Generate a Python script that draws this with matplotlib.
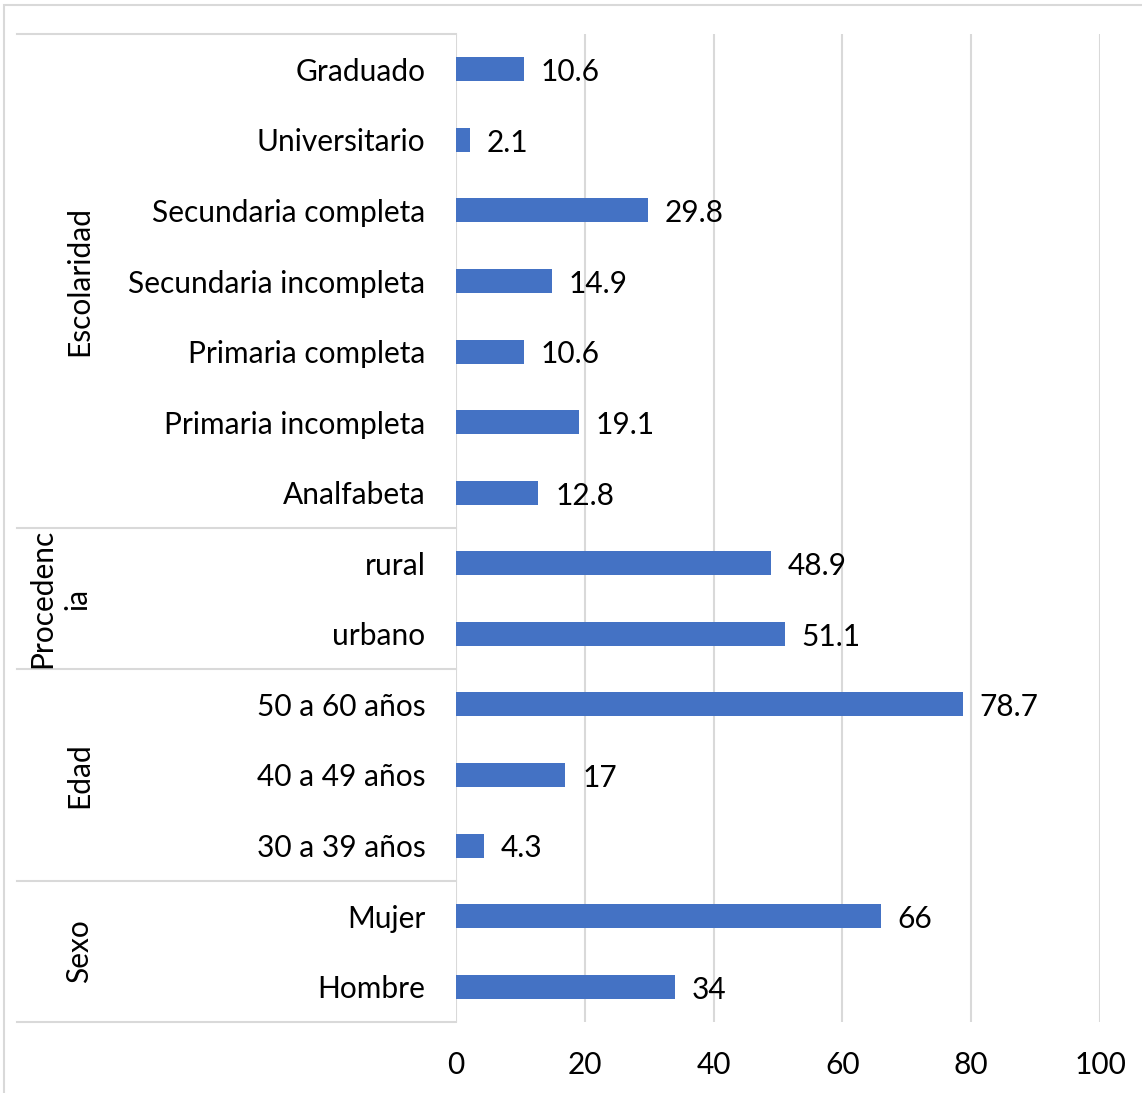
import matplotlib.pyplot as plt
from matplotlib.patches import Rectangle
from matplotlib.lines import Line2D

# Datos (de arriba hacia abajo)
categorias = ["Graduado", "Universitario", "Secundaria completa", "Secundaria incompleta",
              "Primaria completa", "Primaria incompleta", "Analfabeta",
              "rural", "urbano",
              "50 a 60 años", "40 a 49 años", "30 a 39 años",
              "Mujer", "Hombre"]
valores = [10.6, 2.1, 29.8, 14.9, 10.6, 19.1, 12.8, 48.9, 51.1, 78.7, 17, 4.3, 66, 34]
grupos = ["Escolaridad", "Procedenc\nia", "Edad", "Sexo"]
tam_grupos = [7, 2, 3, 2]
ticks_x = [0, 20, 40, 60, 80, 100]

plt.rcParams['font.family'] = ['Lato', 'DejaVu Sans']
GRIS = "#D9D9D9"
AZUL = "#4472C4"
FS = 21.5

W, H = 1142, 1093
fig = plt.figure(figsize=(W / 100, H / 100), dpi=100)
fig.patch.set_facecolor("white")

# borde exterior del gráfico
fig.patches.append(Rectangle((4 / W, -0.05), 1.2, 1 - 5 / H + 0.05, transform=fig.transFigure,
                             fill=False, edgecolor=GRIS, linewidth=1.5))

x0, x1, y0, y1 = 456, 1100, 34, 1022
ax = fig.add_axes([x0 / W, 1 - y1 / H, (x1 - x0) / W, (y1 - y0) / H])

n = len(categorias)
pos = list(range(n))
ax.barh(pos, valores, height=0.34, color=AZUL, zorder=3)
ax.set_ylim(n - 0.5, -0.5)
ax.set_xlim(0, 100)

for p, v in zip(pos, valores):
    ax.text(v + 2.6, p + 0.04, f"{v:g}", va="center", ha="left", fontsize=FS, color="black")

ax.set_yticks(pos)
ax.set_yticklabels(categorias, fontsize=FS)
ax.set_xticks(ticks_x)
ax.set_xticklabels([str(t) for t in ticks_x], fontsize=FS)
ax.tick_params(axis="y", length=0, pad=22)
ax.tick_params(axis="x", length=0, pad=21)
for s in ax.spines.values():
    s.set_visible(False)
ax.grid(axis="x", color=GRIS, linewidth=1.5, zorder=0)

# separadores y etiquetas de grupo
xl = (17 - x0) / (x1 - x0)
inicio = -0.5
ax.add_line(Line2D([xl, 0], [inicio, inicio], transform=ax.get_yaxis_transform(),
                   color=GRIS, linewidth=1.5, clip_on=False))
for g, t in zip(grupos, tam_grupos):
    fin = inicio + t
    ax.add_line(Line2D([xl, 0], [fin, fin], transform=ax.get_yaxis_transform(),
                       color=GRIS, linewidth=1.5, clip_on=False))
    xc = (79 - x0) / (x1 - x0) if "\n" not in g else (60 - x0) / (x1 - x0)
    ax.text(xc, (inicio + fin) / 2, g, transform=ax.get_yaxis_transform(), rotation=90,
            ha="center", va="center", fontsize=FS, linespacing=1.3)
    inicio = fin

fig.savefig("out.png", dpi=100, facecolor="white")
